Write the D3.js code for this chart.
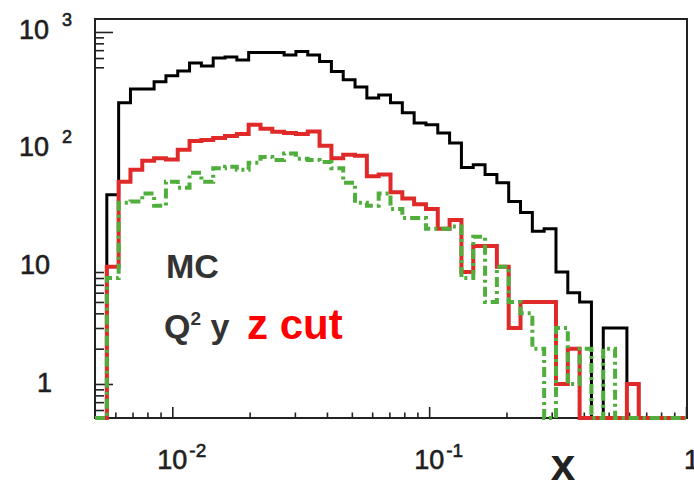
<!DOCTYPE html>
<html>
<head>
<meta charset="utf-8">
<script src="https://cdn.jsdelivr.net/npm/d3@7"></script>
<style>
  body { margin: 0; background: #fff; }
  svg { display: block; font-family: "Liberation Sans", Arial, sans-serif; }
  .lbl { fill: #1e1e1e; stroke: #1e1e1e; stroke-width: 0.6px; }
</style>
</head>
<body>
<svg id="chart"></svg>
<script>
// binning: 50 log-spaced bins in x from 0.005 to 1
const xLow = 0.005, xHigh = 1, nBins = 50;

// MC, all events (black)
const allEvents = [0, 41, 249, 327, 327, 376, 423, 466, 545, 514,
  601, 613, 578, 667, 667, 667, 638, 681, 638, 559,
  460, 391, 340, 274, 291, 249, 205, 168, 162, 138,
  113, 70, 74, 61, 52, 36, 29, 20, 21, 9,
  6, 5, 0, 3, 3, 1, 0, 0, 0, 0];

// after Q2 y cut (red)
const q2yCut = [0, 10, 53, 67, 80, 84, 82, 99, 118, 120,
  125, 130, 135, 162, 150, 141, 138, 135, 142, 107,
  84, 90, 88, 59, 61, 43, 38, 34, 31, 21,
  25, 9, 15, 15, 10, 3, 5, 5, 5, 1,
  2, 0, 0, 0, 0, 1, 0, 0, 0, 0];

// after Q2 y z cut (green, dash-dot)
const q2yzCut = [0, 8, 35, 36, 42, 33, 53, 47, 63, 53,
  69, 71, 67, 77, 86, 81, 92, 83, 81, 78,
  69, 52, 35, 33, 42, 31, 26, 26, 21, 21,
  22, 8, 18, 5, 10, 5, 4, 2, 0, 3,
  1, 2, 0, 2, 0, 0, 0, 0, 0, 0];

const xLabelTicks = [0.01, 0.1, 1];
const yLabelTicks = [1, 10, 100, 1000];
const yRange = [0.513, 1290];

const chartSize = { width: 694, height: 483 };
const frame = { left: 95, top: 19, right: 687, bottom: 418 };

const svg = d3.select("#chart")
  .attr("width", chartSize.width)
  .attr("height", chartSize.height);

const x = d3.scaleLog().domain([xLow, xHigh]).range([frame.left, frame.right - 1]);
const y = d3.scaleLog().domain(yRange).range([frame.bottom, frame.top]);

const binEdges = d3.range(nBins + 1).map(i => xLow * Math.pow(xHigh / xLow, i / nBins));

const isMajor = v => Math.abs(Math.log10(v) - Math.round(Math.log10(v))) < 1e-6;

// frame
svg.append("rect")
  .attr("x", frame.left)
  .attr("y", frame.top)
  .attr("width", frame.right - frame.left)
  .attr("height", frame.bottom - frame.top)
  .attr("fill", "none")
  .attr("stroke", "#222")
  .attr("stroke-width", 2);

// y ticks (inside frame); the middle decades have no ticks in the original
const yTicks = y.ticks().filter(v => v < 10 || v >= 500);
const drawAxis = (axis, transform) => {
  const g = svg.append("g").attr("transform", transform).call(axis);
  g.select(".domain").remove();
  g.selectAll(".tick line").attr("stroke", "#222").attr("stroke-width", 1.6);
  g.selectAll(".tick text").remove();
};
drawAxis(d3.axisRight(y).tickValues(yTicks.filter(isMajor)).tickSize(18).tickFormat(""),
  `translate(${frame.left},0)`);
drawAxis(d3.axisRight(y).tickValues(yTicks.filter(v => !isMajor(v))).tickSize(9).tickFormat(""),
  `translate(${frame.left},0)`);

// x ticks (pointing up)
const xTicks = x.ticks().filter(v => v > xLow * 1.01);
drawAxis(d3.axisTop(x).tickValues(xTicks.filter(isMajor)).tickSize(11).tickFormat(""),
  `translate(0,${frame.bottom})`);
drawAxis(d3.axisTop(x).tickValues(xTicks.filter(v => !isMajor(v))).tickSize(5.5).tickFormat(""),
  `translate(0,${frame.bottom})`);

// y labels
yLabelTicks.forEach(v => {
  const e = Math.round(Math.log10(v));
  if (e === 0) {
    svg.append("text").attr("class", "lbl").attr("x", 52).attr("y", y(v) + 8)
      .attr("text-anchor", "end").attr("font-size", 27).text("1");
  } else if (e === 1) {
    svg.append("text").attr("class", "lbl").attr("x", 50).attr("y", y(v) + 7)
      .attr("text-anchor", "end").attr("font-size", 27).text("10");
  } else {
    svg.append("text").attr("class", "lbl").attr("x", 49).attr("y", y(v) + 7)
      .attr("text-anchor", "end").attr("font-size", 27).text("10");
    svg.append("text").attr("class", "lbl").attr("x", 62).attr("y", y(v) - 6)
      .attr("font-size", 18).text(e);
  }
});

// x labels
xLabelTicks.forEach(v => {
  const e = Math.round(Math.log10(v));
  if (e === 0) {
    svg.append("text").attr("class", "lbl").attr("x", x(v) - 2).attr("y", 469)
      .attr("font-size", 27).text("1");
  } else {
    svg.append("text").attr("class", "lbl").attr("x", x(v)).attr("y", 469)
      .attr("text-anchor", "middle").attr("font-size", 27).text("10");
    svg.append("text").attr("class", "lbl").attr("x", x(v) + 17).attr("y", 457)
      .attr("font-size", 19).text("-" + Math.abs(e));
  }
});

// axis title
svg.append("text").attr("x", 563).attr("y", 480)
  .attr("text-anchor", "middle").attr("font-size", 44).attr("font-weight", "bold")
  .attr("fill", "#222").text("x");

// histograms
const histPath = values => {
  const base = frame.bottom;
  const pts = [[x(binEdges[0]), base]];
  values.forEach((v, i) => {
    const yy = v > 0 ? y(v) : base;
    pts.push([x(binEdges[i]), yy], [x(binEdges[i + 1]), yy]);
  });
  pts.push([x(binEdges[nBins]), base]);
  return d3.line()(pts);
};

const series = [
  { values: allEvents, color: "#000", width: 3, dash: null },
  { values: q2yCut, color: "#e02a2a", width: 4, dash: null },
  { values: q2yzCut, color: "#4fae3c", width: 4, dash: "10,4,3,4" }
];

series.forEach(s => {
  svg.append("path")
    .attr("d", histPath(s.values))
    .attr("fill", "none")
    .attr("stroke", s.color)
    .attr("stroke-width", s.width)
    .attr("stroke-dasharray", s.dash)
    .attr("stroke-linejoin", "miter");
});

// annotations
svg.append("text").attr("x", 166).attr("y", 278)
  .attr("font-size", 34).attr("font-weight", "bold").attr("fill", "#333").text("MC");

const q2 = svg.append("text").attr("x", 164).attr("y", 338)
  .attr("font-size", 34).attr("font-weight", "bold").attr("fill", "#333");
q2.append("tspan").text("Q");
q2.append("tspan").attr("font-size", 19).attr("dy", -13).text("2");
q2.append("tspan").attr("dy", 13).text(" y");

svg.append("text").attr("x", 247).attr("y", 339)
  .attr("font-size", 42).attr("font-weight", "bold").attr("fill", "#ff0000").text("z cut");
</script>
</body>
</html>
